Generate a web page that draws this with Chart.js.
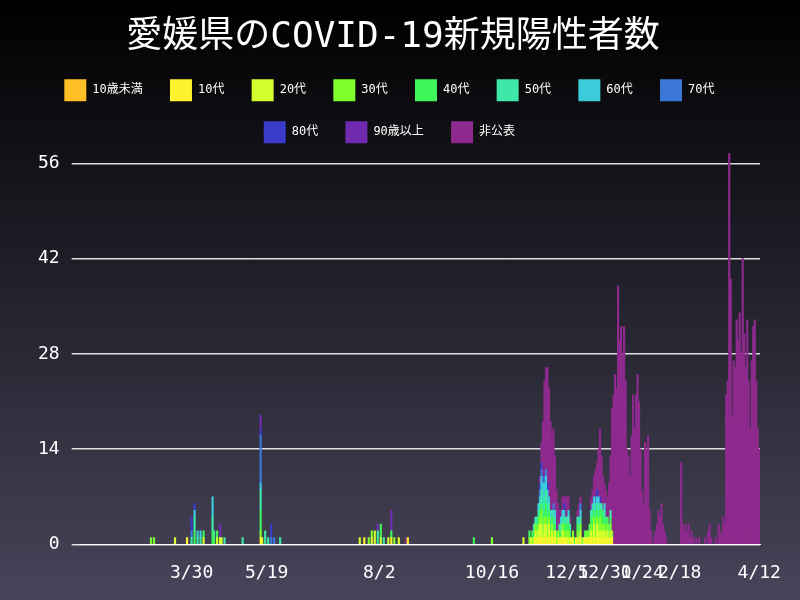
<!DOCTYPE html>
<html>
<head>
<meta charset="utf-8">
<script src="https://cdn.jsdelivr.net/npm/chart.js@4"></script>
<style>
  html, body { margin: 0; padding: 0; }
  body { width: 800px; height: 600px; background: linear-gradient(#000000, #48445a); }
  #wrap { width: 800px; height: 600px; position: relative; }
</style>
</head>
<body>
<div id="wrap"><canvas id="chart"></canvas></div>
<script>
// series names and colours (legend order)
const seriesNames = ['10歳未満', '10代', '20代', '30代', '40代', '50代', '60代', '70代', '80代', '90歳以上', '非公表'];
const seriesColors = ['#ffbf27', '#fff22e', '#d4ff2e', '#80ff2e', '#3ff55a', '#3de8a8', '#3ccbd9', '#3c78d8', '#3b3bc9', '#6f2aaf', '#8e2a8e'];

// x tick labels that are shown
const tickDays = ['2020-03-30', '2020-05-19', '2020-08-02', '2020-10-16', '2020-12-05', '2020-12-30', '2021-01-24', '2021-02-18', '2021-04-12'];

const firstDay = '2020-01-16';
const lastDay = '2021-04-12';

// scattered early cases: [date, series, count]
const earlyCases = [
  ['2020-03-03', '30代', 1], ['2020-03-05', '30代', 1], ['2020-03-19', '20代', 1], ['2020-03-27', '10代', 1],
  ['2020-03-30', '50代', 1], ['2020-03-30', '70代', 1], ['2020-03-30', '80代', 2],
  ['2020-04-01', '40代', 2], ['2020-04-01', '50代', 2], ['2020-04-01', '60代', 1], ['2020-04-01', '80代', 1],
  ['2020-04-03', '50代', 1], ['2020-04-03', '60代', 1], ['2020-04-05', '50代', 1], ['2020-04-05', '60代', 1],
  ['2020-04-07', '20代', 1], ['2020-04-07', '40代', 1],
  ['2020-04-13', '40代', 2], ['2020-04-13', '50代', 2], ['2020-04-13', '60代', 3],
  ['2020-04-14', '40代', 1], ['2020-04-14', '50代', 1], ['2020-04-16', '20代', 1], ['2020-04-16', '40代', 1],
  ['2020-04-18', '20代', 1], ['2020-04-18', '90歳以上', 2], ['2020-04-19', '20代', 1], ['2020-04-21', '50代', 1],
  ['2020-05-03', '50代', 1],
  ['2020-05-15', '10代', 1], ['2020-05-15', '30代', 1], ['2020-05-15', '40代', 3], ['2020-05-15', '50代', 3],
  ['2020-05-15', '60代', 1], ['2020-05-15', '70代', 7], ['2020-05-15', '80代', 1], ['2020-05-15', '90歳以上', 2],
  ['2020-05-16', '20代', 1], ['2020-05-18', '50代', 2], ['2020-05-20', '50代', 1],
  ['2020-05-22', '70代', 1], ['2020-05-22', '80代', 2], ['2020-05-24', '70代', 1], ['2020-05-28', '50代', 1],
  ['2020-07-20', '20代', 1], ['2020-07-23', '10代', 1], ['2020-07-26', '30代', 1], ['2020-07-28', '20代', 1],
  ['2020-07-28', '30代', 1], ['2020-07-30', '20代', 2], ['2020-08-01', '50代', 2], ['2020-08-01', '90歳以上', 1],
  ['2020-08-03', '20代', 1], ['2020-08-03', '40代', 2], ['2020-08-05', '50代', 1], ['2020-08-08', '20代', 1],
  ['2020-08-10', '10代', 1], ['2020-08-10', '40代', 1], ['2020-08-10', '90歳以上', 3], ['2020-08-12', '30代', 1],
  ['2020-08-15', '20代', 1], ['2020-08-20', '非公表', 1], ['2020-08-21', '10代', 1],
  ['2020-10-04', '40代', 1], ['2020-10-16', '30代', 1], ['2020-11-06', '20代', 1]
];

// daily counts from 2020-11-10
const waveStart = '2020-11-10';
const age10 = [0,0,0,0,1,0, 1,1,1,0,1, 1,0,1,0,1, 0,1,0,0,1, 0,1,0,1,0, 0,0,1,0,0, 1,0,0,1,0, 0,1,0,1,0, 1,0,1,0,1, 1,0,1,0,1, 0,1,0,1,1];
const age20 = [0,1,0,1,1,1, 1,2,2,1,2, 2,1,2,1,1, 1,1,0,1,0, 1,1,1,0,1, 1,1,0,1,0, 0,1,1,1,0, 1,0,1,0,1, 1,1,2,1,2, 1,2,1,2,1, 1,1,1,1,0];
const age30 = [1,0,1,0,1,1, 1,1,2,1,1, 1,2,1,1,1, 1,0,1,1,0, 0,1,1,1,1, 1,0,0,1,0, 0,1,0,1,0, 0,0,1,0,1, 1,1,1,1,1, 1,2,1,1,1, 1,1,0,1,1];
const age40 = [1,0,1,1,0,1, 1,1,1,2,1, 2,1,1,1,1, 1,1,1,0,1, 1,0,1,1,1, 1,1,0,0,1, 0,1,1,0,1, 0,1,0,1,1, 1,2,1,2,1, 1,1,2,1,1, 1,1,1,1,0];
const age50 = [0,0,0,1,1,1, 1,1,2,2,2, 2,2,1,1,1, 1,1,0,0,1, 1,1,1,1,1, 1,1,0,0,0, 0,1,1,1,0, 0,0,0,0,0, 1,1,1,1,1, 2,1,1,1,1, 1,0,1,1,0];
const age60 = [0,0,0,0,0,0, 1,1,2,3,2, 2,2,1,1,0, 1,1,0,0,0, 1,1,1,0,0, 1,0,0,0,0, 0,0,1,1,0, 0,0,0,0,0, 0,1,1,1,1, 1,0,0,0,1];
const age70 = [0,0,0,0,0,0, 0,1,1,0,1, 1,0,0,0,0, 1,0,0,0,0, 0,0,0,0,0, 0,0,0,0,0, 0,0,0,1,0, 0,0,0,0,0, 0,0,0,1,0];
const age80 = [0,0,0,0,0,0, 0,1,1,1,0, 0,1,0,0,0, 0,0,0,0,0, 0,0,1,0,0, 0,0,0,0,0, 0,0,0,0,0, 0,0,0,0,0, 0,0,0,0,1, 0,1];
const nonPublic = [
  0,0,0,0,0,0, 0,1,3,8,14, 15,17,16,13,11, 11,8,6,4,2, 1,2,1,3,3, 2,1,0,0,0, 0,1,2,1,0,
  0,0,0,0,0, 2,2,3,4,4, 7,10,7,5,3, 4,3,6,8,18,
  22,25,23,38,30, 32,28,32,24,14, 13,10,16,22,17, 22,25,21,14,8, 6,15,14,16,5,
  2,0,1,2,3, 5,4,6,3,2, 1,0,0,0,0, 0,0,0,0,0, 12,3,2,3,2, 3,1,2,1,0,
  1,0,1,0,0, 0,1,0,2,3, 1,0,0,1,0, 3,2,1,4,3,
  22,24,58,39,19, 27,26,33,30,34, 28,42,31,26,33, 24,17,27,32,33, 24,17,14
];

// build day labels
const days = [];
const labels = [];
for (let d = new Date(firstDay + 'T00:00:00Z'); d <= new Date(lastDay + 'T00:00:00Z'); d.setUTCDate(d.getUTCDate() + 1)) {
  days.push(d.toISOString().slice(0, 10));
  labels.push((d.getUTCMonth() + 1) + '/' + d.getUTCDate());
}

const values = {};
seriesNames.forEach(n => { values[n] = days.map(() => 0); });
earlyCases.forEach(([day, name, n]) => { values[name][days.indexOf(day)] += n; });

const w0 = days.indexOf(waveStart);
const waveSeries = { '10代': age10, '20代': age20, '30代': age30, '40代': age40, '50代': age50, '60代': age60, '70代': age70, '80代': age80, '非公表': nonPublic };
Object.entries(waveSeries).forEach(([name, arr]) => {
  arr.forEach((v, i) => { if (w0 + i < days.length) values[name][w0 + i] += v; });
});

const datasets = seriesNames.map((name, i) => ({
  label: name + ' ', // trailing space widens legend items a bit
  data: values[name].map(v => v === 0 ? null : v), // no zero-height slivers
  backgroundColor: seriesColors[i],
  borderWidth: 0,
  barPercentage: 1,
  categoryPercentage: 1
}));

const font = "'DejaVu Sans Mono', 'Noto Sans CJK JP', monospace";

new Chart(document.getElementById('chart'), {
  type: 'bar',
  data: { labels: labels, datasets: datasets },
  options: {
    responsive: true,
    maintainAspectRatio: false,
    animation: false,
    layout: { padding: { left: 26, right: 40, bottom: 6 } },
    plugins: {
      title: {
        display: true,
        text: '愛媛県のCOVID-19新規陽性者数',
        color: '#ffffff',
        font: { family: font, size: 36, weight: 'normal' },
        padding: { top: 16, bottom: 0 }
      },
      legend: {
        labels: {
          color: '#ffffff',
          boxWidth: 22,
          boxHeight: 22,
          padding: 20,
          font: { family: font, size: 12 }
        }
      },
      tooltip: { enabled: false }
    },
    scales: {
      x: {
        stacked: true,
        grid: { display: false },
        border: { color: '#ffffff' },
        ticks: {
          color: '#ffffff',
          autoSkip: false,
          maxRotation: 0,
          padding: 10,
          font: { family: font, size: 18 },
          callback: function (v) {
            return tickDays.includes(days[v]) ? this.getLabelForValue(v) : null;
          }
        }
      },
      y: {
        stacked: true,
        z: 1,
        min: 0,
        max: 57.5,
        afterBuildTicks: axis => { axis.ticks = [0, 14, 28, 42, 56].map(v => ({ value: v })); },
        grid: { color: '#dddddd', lineWidth: 1.5 },
        border: { display: false },
        ticks: { color: '#ffffff', padding: 12, font: { family: font, size: 18 } }
      }
    }
  }
});
</script>
</body>
</html>
